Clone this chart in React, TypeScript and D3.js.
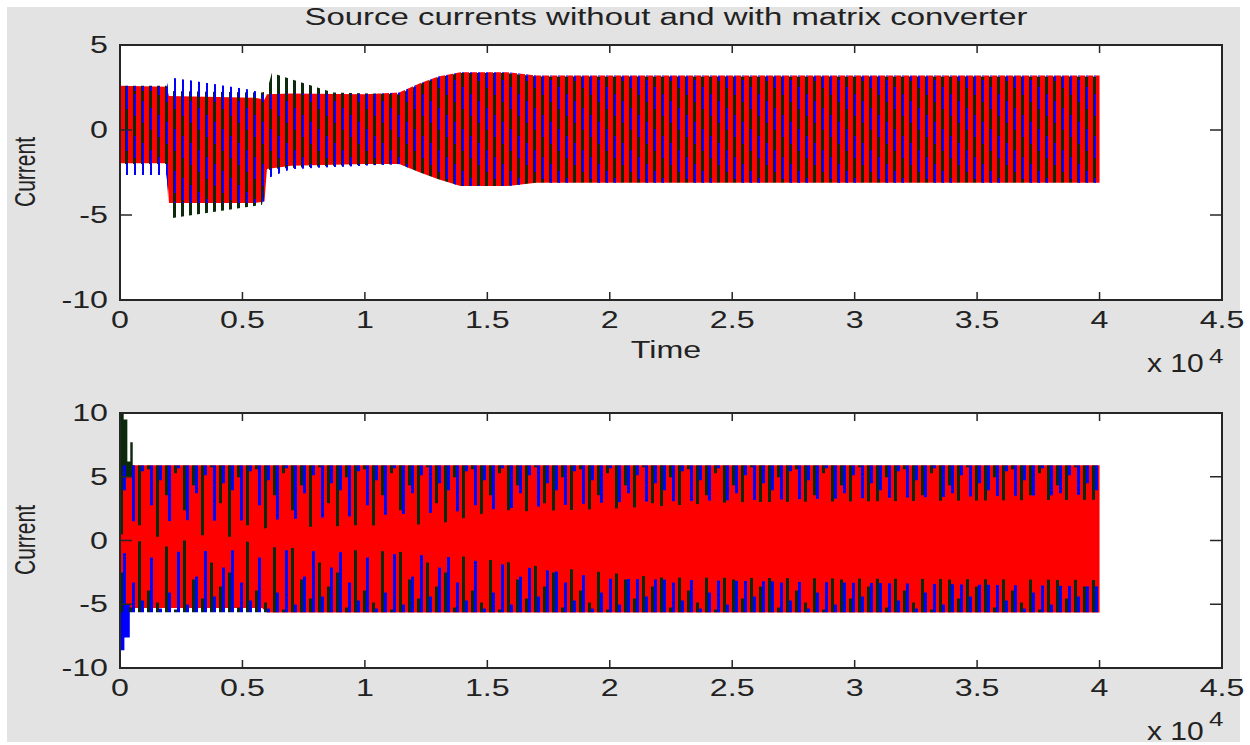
import * as d3 from "d3";

// ---- axis ticks ----
const xTicks = [0, 5000, 10000, 15000, 20000, 25000, 30000, 35000, 40000, 45000];
const xTickLabels = ["0", "0.5", "1", "1.5", "2", "2.5", "3", "3.5", "4", "4.5"];
const topYTicks = [-10, -5, 0, 5];
const bottomYTicks = [-10, -5, 0, 5, 10];

// ---- top panel (without converter): envelopes ----
const topRedTime = [0, 1900, 2000, 5500, 5900, 6000, 7000, 10000, 11400, 12250, 13000, 13900, 15800, 17000, 40000];
const topRedUpper = [2.6, 2.55, 2.0, 1.9, 1.8, 2.1, 2.15, 2.1, 2.2, 2.75, 3.15, 3.4, 3.4, 3.2, 3.2];
const topRedLower = [-1.95, -1.95, -4.3, -4.3, -4.2, -2.3, -2.1, -2.0, -2.0, -2.5, -2.9, -3.3, -3.3, -3.1, -3.1];

const topBlueTime = [0, 1900, 2000, 5400, 5800, 5900, 7000, 11400, 12250, 13000, 13900, 15800, 17000, 40000];
const topBlueUpper = [2.3, 2.3, 3.1, 2.35, 2.1, 2.0, 2.1, 2.1, 2.7, 3.1, 3.35, 3.35, 3.15, 3.15];
const topBlueLower = [-2.65, -2.65, -4.2, -4.3, -4.3, -2.9, -2.3, -2.0, -2.5, -2.9, -3.3, -3.3, -3.1, -3.1];

const topGreenTime = [0, 1900, 2000, 5800, 6000, 6200, 8700, 11400, 12250, 13000, 13900, 15800, 17000, 40000];
const topGreenUpper = [2.6, 2.6, 2.3, 2.2, 2.3, 3.35, 2.2, 2.1, 2.7, 3.1, 3.35, 3.35, 3.15, 3.15];
const topGreenLower = [-2.0, -2.0, -5.2, -4.4, -2.4, -2.3, -2.1, -2.0, -2.5, -2.9, -3.3, -3.3, -3.1, -3.1];

// ---- bottom panel (with converter) ----
const botRedTime = [0, 100, 250, 500, 5800, 6000, 40000];
const botRedUpper = [6.5, 6.0, 5.9, 5.9, 5.9, 5.9, 5.9];
const botRedLower = [-7.4, -6.8, -5.6, -5.3, -5.3, -5.65, -5.65];

// start-up transients
const botGreenStartTime = [0, 150, 300, 420, 520, 560];
const botGreenStartPeak = [10, 9.5, 6.2, 7.7, 5.9, 5.9];
const botBlueStartTime = [0, 180, 400];
const botBlueStartPeak = [-8.6, -7.6, -5.6];

// how far the phase spikes reach into the red band
const botGreenTopTime = [0, 1000, 5000, 6000, 13000, 15000, 20000, 25000, 40000];
const botGreenTopReach = [0.5, 0.3, 0.3, 1.0, 1.3, 2.2, 2.5, 3.0, 3.2];
const botBlueTopTime = [0, 6000, 13000, 20000, 40000];
const botBlueTopReach = [1.5, 1.6, 2.2, 3.0, 3.6];
const botGreenBottomTime = [0, 1000, 5000, 6000, 13000, 17000, 22000, 40000];
const botGreenBottomReach = [-0.3, 0.0, 0.0, -0.5, -1.0, -2.0, -2.9, -3.1];
const botBlueBottomTime = [0, 6000, 13000, 20000, 40000];
const botBlueBottomReach = [-1.0, -0.7, -1.2, -3.0, -3.6];

// ---- styling ----
const RED = "#ff0000";
const BLUE = "#0000ff";
const GREEN = "#0b2a0b";
const AXIS = "#262626";
const FONT = "'Liberation Sans', Arial, Helvetica, sans-serif";
const SX = 1.4; // matlab bitmap font is stretched horizontally

// stripe lengths (px) used inside spike textures
const greenTopLens = [100, 12, 60, 4, 85, 30, 8, 45, 20, 70, 2, 38];
const blueTopLens = [25, 70, 6, 40, 15, 90, 3, 55, 28, 10, 65, 18];
const greenBotLens = [40, 5, 90, 22, 10, 66, 3, 100, 33, 14, 50, 26];
const blueBotLens = [75, 30, 12, 55, 4, 20, 80, 8, 36, 95, 16, 45];

const x = d3.scaleLinear().domain([0, 45000]).range([120, 1222]);
const yTop = d3.scaleLinear().domain([-10, 5]).range([300, 45]);
const yBot = d3.scaleLinear().domain([-10, 10]).range([668, 413]);

const band = (t: number[], hi: number[], lo: number[] | number, y: any, curve: any = d3.curveLinear) =>
  d3
    .area<number>()
    .x((d) => x(d))
    .y0((_, i) => y(Array.isArray(lo) ? lo[i] : lo))
    .y1((_, i) => y(hi[i]))
    .curve(curve)(t) as string;

const TILE = 110;
const SLOT = 9;

function SpikePattern({ id, y, lens, offset, color, up }: any) {
  return (
    <pattern id={id} patternUnits="userSpaceOnUse" x={120} y={y} width={SLOT * lens.length} height={TILE}>
      {lens.map((l: number, i: number) => (
        <rect key={i} x={i * SLOT + offset} y={up ? TILE - l : 0} width={3} height={l} fill={color} />
      ))}
    </pattern>
  );
}

function Axes({ y, top, bottom, yTicks }: any) {
  const x0 = 120, x1 = 1222;
  return (
    <g>
      {xTicks.map((t, i) => (
        <g key={"x" + i}>
          <line x1={x(t)} x2={x(t)} y1={bottom} y2={bottom - 8} stroke={AXIS} strokeWidth={1.5} />
          <line x1={x(t)} x2={x(t)} y1={top} y2={top + 8} stroke={AXIS} strokeWidth={1.5} />
          <text
            transform={`translate(${x(t)},${bottom + 28}) scale(${SX},1)`}
            textAnchor="middle"
            fontSize={23}
            fill="#222"
            fontFamily={FONT}
          >
            {xTickLabels[i]}
          </text>
        </g>
      ))}
      {yTicks.map((v: number) => (
        <g key={"y" + v}>
          <line x1={x0} x2={x0 + 12} y1={y(v)} y2={y(v)} stroke={AXIS} strokeWidth={1.5} />
          <line x1={x1} x2={x1 - 12} y1={y(v)} y2={y(v)} stroke={AXIS} strokeWidth={1.5} />
          <text
            transform={`translate(108,${y(v) + 8}) scale(${SX},1)`}
            textAnchor="end"
            fontSize={23}
            fill="#222"
            fontFamily={FONT}
          >
            {v}
          </text>
        </g>
      ))}
      <rect x={x0} y={top} width={x1 - x0} height={bottom - top} fill="none" stroke={AXIS} strokeWidth={2} />
    </g>
  );
}

export default function App() {
  const topBase = yTop(-10), topCeil = yTop(5);
  const botBase = yBot(-10), botCeil = yBot(10);
  const rail = botRedUpper[botRedUpper.length - 1];
  const floor = botRedLower[botRedLower.length - 1];

  // segmented blue texture for the top panel (staircase look of the aliased phase)
  const blueSegs: { y: number; h: number; x: number }[] = [];
  for (let i = 0; i < 6; i++) {
    const y0 = (i * 7) % 42;
    blueSegs.push({ x: i * 8 + 6, y: y0, h: 22 });
    if (y0 + 22 > 42) blueSegs.push({ x: i * 8 + 6, y: y0 - 42, h: 22 });
  }

  const redBandTop = band(topRedTime, topRedUpper, topRedLower, yTop);
  const blueBandTop = band(topBlueTime, topBlueUpper, topBlueLower, yTop);

  return (
    <svg width={1250} height={745} style={{ position: "absolute", left: 0, top: 0, background: "#fff" }}>
      <defs>
        <clipPath id="clipTop">
          <rect x={120} y={topCeil} width={1102} height={topBase - topCeil} />
        </clipPath>
        <clipPath id="clipBot">
          <rect x={120} y={botCeil} width={1102} height={botBase - botCeil} />
        </clipPath>
        <pattern id="topRed" patternUnits="userSpaceOnUse" x={120} y={0} width={8} height={10}>
          <rect x={0} y={0} width={5} height={10} fill={RED} />
        </pattern>
        <pattern id="topGreen" patternUnits="userSpaceOnUse" x={120} y={0} width={8} height={10}>
          <rect x={5} y={0} width={3} height={10} fill={GREEN} />
        </pattern>
        <pattern id="topBlueFull" patternUnits="userSpaceOnUse" x={120} y={0} width={8} height={10}>
          <rect x={6} y={0} width={2} height={10} fill={BLUE} />
        </pattern>
        <pattern id="topBlue" patternUnits="userSpaceOnUse" x={120} y={45} width={48} height={42}>
          {blueSegs.map((s, i) => (
            <rect key={i} x={s.x} y={s.y} width={2} height={s.h} fill={BLUE} />
          ))}
        </pattern>
        <SpikePattern id="gTop" y={yBot(rail)} lens={greenTopLens} offset={0} color={GREEN} up={false} />
        <SpikePattern id="bTop" y={yBot(rail)} lens={blueTopLens} offset={3} color={BLUE} up={false} />
        <SpikePattern id="gBot" y={yBot(floor) - TILE} lens={greenBotLens} offset={0} color={GREEN} up={true} />
        <SpikePattern id="bBot" y={yBot(floor) - TILE} lens={blueBotLens} offset={3} color={BLUE} up={true} />
      </defs>

      <rect x={7} y={7} width={1233} height={735} fill="#e3e3e3" />
      <rect x={120} y={topCeil} width={1102} height={topBase - topCeil} fill="#fff" />
      <rect x={120} y={botCeil} width={1102} height={botBase - botCeil} fill="#fff" />

      {/* top panel */}
      <g clipPath="url(#clipTop)">
        <path d={band(topGreenTime, topGreenUpper, topGreenLower, yTop)} fill="url(#topGreen)" />
        <path d={blueBandTop} fill="url(#topBlue)" />
        {/* blue tips sticking out of the red band */}
        <path d={blueBandTop + redBandTop} fill="url(#topBlueFull)" fillRule="evenodd" />
        <path d={redBandTop} fill="url(#topRed)" />
      </g>

      {/* bottom panel */}
      <g clipPath="url(#clipBot)">
        <path d={band(botRedTime, botRedUpper, botRedLower, yBot)} fill={RED} />
        <path d={band(botGreenStartTime, botGreenStartPeak, 5.0, yBot, d3.curveStepAfter)} fill={GREEN} />
        <path d={band(botBlueStartTime, botBlueStartPeak, -5.0, yBot, d3.curveStepAfter)} fill={BLUE} />
        <path d={band(botBlueTopTime, botBlueTopTime.map(() => rail), botBlueTopReach, yBot)} fill="url(#bTop)" />
        <path d={band(botGreenTopTime, botGreenTopTime.map(() => rail), botGreenTopReach, yBot)} fill="url(#gTop)" />
        <path d={band(botBlueBottomTime, botBlueBottomReach, botBlueBottomTime.map(() => floor), yBot)} fill="url(#bBot)" />
        <path d={band(botGreenBottomTime, botGreenBottomReach, botGreenBottomTime.map(() => floor), yBot)} fill="url(#gBot)" />
      </g>

      <Axes y={yTop} top={topCeil} bottom={topBase} yTicks={topYTicks} />
      <Axes y={yBot} top={botCeil} bottom={botBase} yTicks={bottomYTicks} />

      {/* titles and labels */}
      <text x={666} y={25} textAnchor="middle" fontSize={23} fill="#222" fontFamily={FONT} textLength={723} lengthAdjust="spacingAndGlyphs">
        Source currents without and with matrix converter
      </text>
      <text transform={`translate(666,358) scale(${SX},1)`} textAnchor="middle" fontSize={23} fill="#222" fontFamily={FONT}>
        Time
      </text>
      {[172, 540].map((cy, i) => (
        <text
          key={i}
          transform={`translate(35,${cy}) rotate(-90) scale(1,${SX})`}
          textAnchor="middle"
          fontSize={21}
          fill="#222"
          fontFamily={FONT}
        >
          Current
        </text>
      ))}
      {[372, 740].map((b, i) => (
        <g key={i}>
          <text transform={`translate(1147,${b}) scale(1.2,1)`} fontSize={25} fill="#222" fontFamily={FONT}>
            x 10
          </text>
          <text transform={`translate(1209,${b - (i === 0 ? 9 : 14)}) scale(1.3,1)`} fontSize={20} fill="#222" fontFamily={FONT}>
            4
          </text>
        </g>
      ))}
    </svg>
  );
}
